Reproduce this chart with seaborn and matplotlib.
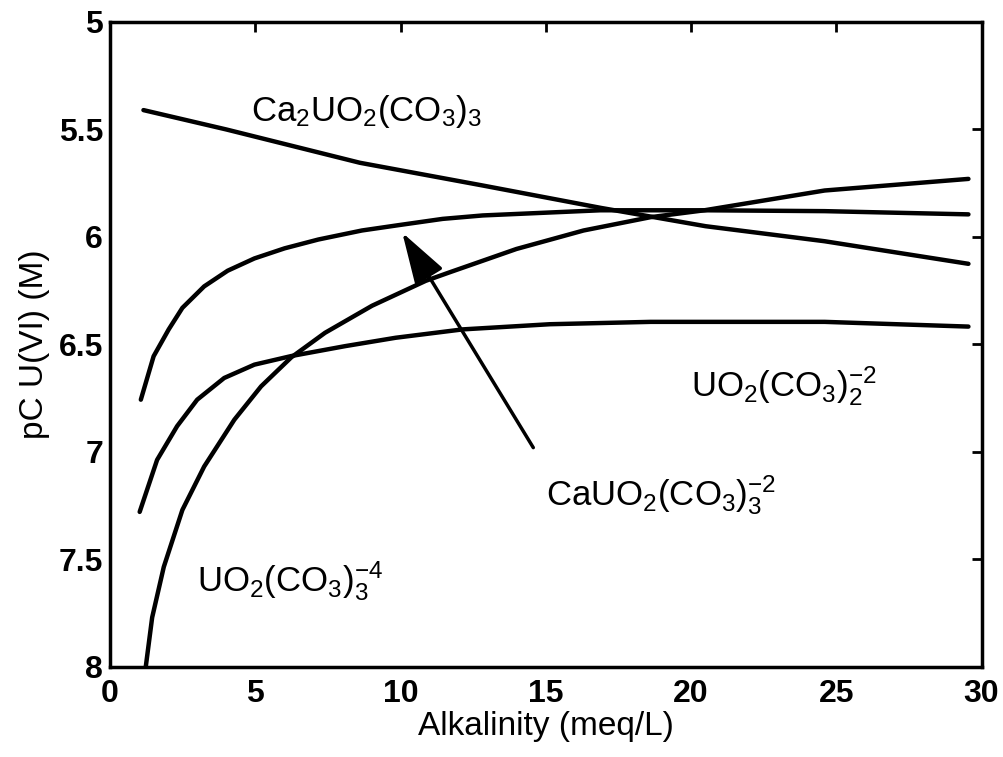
import numpy as np
import pandas as pd
import matplotlib
matplotlib.use('Agg')
import matplotlib.pyplot as plt
import seaborn as sns

# values (x = alkalinity meq/L, y = pC U(VI))
ca2_x = [1.15, 4.0, 8.6, 12.8, 16.9, 18.6, 20.5, 24.6, 29.55]
ca2_y = [5.41, 5.50, 5.655, 5.76, 5.865, 5.905, 5.95, 6.02, 6.125]

ca1_x = [1.06, 1.5, 2.02, 2.49, 3.24, 4.05, 4.97, 6.01, 7.17, 8.67, 9.94,
         11.45, 12.83, 16.88, 20.46, 24.6, 29.55]
ca1_y = [6.757, 6.555, 6.43, 6.33, 6.23, 6.157, 6.10, 6.053, 6.012, 5.97, 5.945,
         5.916, 5.90, 5.876, 5.876, 5.88, 5.895]

di_x = [1.02, 1.62, 2.31, 3.0, 3.93, 4.97, 6.24, 8.09, 9.83, 12.14, 15.14,
        18.61, 24.6, 29.55]
di_y = [7.279, 7.037, 6.88, 6.757, 6.656, 6.594, 6.554, 6.508, 6.469, 6.43, 6.406,
        6.395, 6.395, 6.417]

tri_x = [1.21, 1.45, 1.85, 2.49, 3.24, 4.28, 5.2, 6.24, 7.4, 9.02, 10.87,
         11.68, 13.99, 16.3, 18.61, 20.46, 24.6, 29.55]
tri_y = [8.02, 7.77, 7.535, 7.27, 7.068, 6.85, 6.695, 6.56, 6.446, 6.32, 6.204,
         6.165, 6.056, 5.97, 5.908, 5.876, 5.784, 5.73]

x_ticks = [0, 5, 10, 15, 20, 25, 30]
y_ticks = [5, 5.5, 6, 6.5, 7, 7.5, 8]
y_tick_labels = ['5', '5.5', '6', '6.5', '7', '7.5', '8']

sns.set_style('white')
plt.rcParams['font.family'] = ['Liberation Sans', 'DejaVu Sans']
plt.rcParams['text.color'] = 'black'
plt.rcParams['axes.labelcolor'] = 'black'
plt.rcParams['xtick.color'] = 'black'
plt.rcParams['ytick.color'] = 'black'
plt.rcParams['mathtext.fontset'] = 'custom'
plt.rcParams['mathtext.rm'] = 'Liberation Sans'
plt.rcParams['mathtext.it'] = 'Liberation Sans:italic'
plt.rcParams['mathtext.bf'] = 'Liberation Sans:bold'

fig = plt.figure(figsize=(10.04, 7.57), dpi=100)
ax = fig.add_axes([0.1096, 0.119, 0.868, 0.852])

for xs, ys in [(ca2_x, ca2_y), (ca1_x, ca1_y), (di_x, di_y), (tri_x, tri_y)]:
    df = pd.DataFrame({'alk': xs, 'pc': ys})
    sns.lineplot(data=df, x='alk', y='pc', ax=ax, color='black', linewidth=3.2, sort=False)

ax.set_xlim(0, 30)
ax.set_ylim(8, 5)
ax.set_xticks(x_ticks)
ax.set_yticks(y_ticks)
ax.set_yticklabels(y_tick_labels)
ax.tick_params(direction='in', length=7, width=2, top=True, right=True,
               labelsize=23, pad=5)
ax.tick_params(axis='x', pad=9)
for lab in ax.get_xticklabels() + ax.get_yticklabels():
    lab.set_fontweight('bold')
for sp in ax.spines.values():
    sp.set_linewidth(2.5)
    sp.set_color('black')

ax.set_xlabel('Alkalinity (meq/L)', fontsize=24, labelpad=1)
ax.set_ylabel('pC U(VI) (M)', fontsize=24, labelpad=6)

lab_kw = dict(fontsize=25, va='baseline', ha='left')
ax.text(4.85, 5.46, r'Ca$_2$UO$_2$(CO$_3$)$_3$', **lab_kw)
ax.text(20.0, 6.74, r'UO$_2$(CO$_3$)$_2^{-2}$', **lab_kw)
ax.text(15.0, 7.25, r'CaUO$_2$(CO$_3$)$_3^{-2}$', **lab_kw)
ax.text(3.0, 7.65, r'UO$_2$(CO$_3$)$_3^{-4}$', **lab_kw)

ax.annotate('', xy=(10.06, 5.98), xytext=(14.57, 6.98),
            arrowprops=dict(arrowstyle='-|>,head_length=1.6,head_width=0.5',
                            mutation_scale=20, lw=2.5, color='black',
                            shrinkA=0, shrinkB=0))

fig.savefig('out.png', dpi=100)
